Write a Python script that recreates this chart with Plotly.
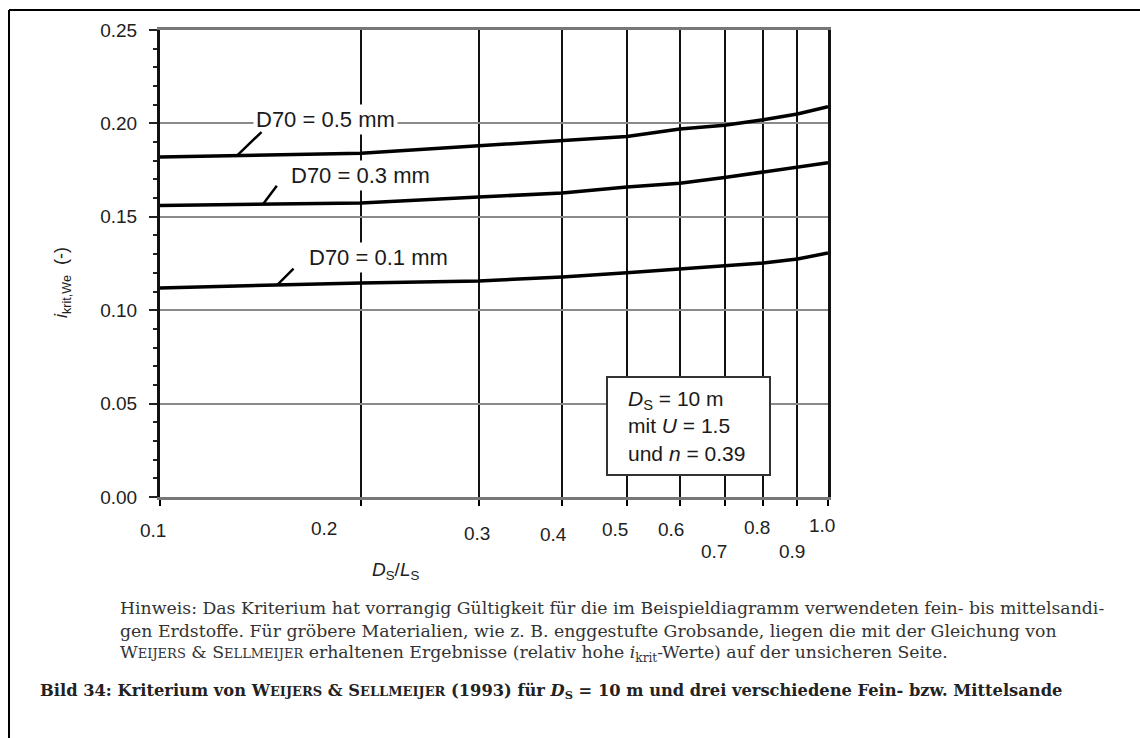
import numpy as np
import plotly.graph_objects as go

# ---- data ----
ds_ls = [0.1, 0.2, 0.3, 0.4, 0.5, 0.6, 0.7, 0.8, 0.9, 1.0]
i_d70_05 = [0.182, 0.184, 0.188, 0.1906, 0.193, 0.197, 0.199, 0.202, 0.205, 0.209]
i_d70_03 = [0.156, 0.1574, 0.1606, 0.1627, 0.166, 0.168, 0.171, 0.174, 0.1767, 0.179]
i_d70_01 = [0.1119, 0.1146, 0.1156, 0.1178, 0.120, 0.122, 0.1237, 0.1253, 0.1274, 0.1306]
series_names = ["D70 = 0.5 mm", "D70 = 0.3 mm", "D70 = 0.1 mm"]
x_tick_vals = [0.1, 0.2, 0.3, 0.4, 0.5, 0.6, 0.7, 0.8, 0.9, 1.0]
x_tick_text = ["0.1", "0.2", "0.3", "0.4", "0.5", "0.6", "0.7", "0.8", "0.9", "1.0"]
y_tick_vals = [0.00, 0.05, 0.10, 0.15, 0.20, 0.25]

# ---- layout helpers (positions / styles) ----
x_lab_dx = [-7, -37, -2, -9, -12, -9, -11, -6, -5, -6]
x_lab_dy = [33, 31, 36, 37, 32, 32, 54, 30, 54, 28]
leader_x = [0.1304, 0.1426, 0.1497]
leader_ax = [26, 15, 18]
leader_ay = [-25, -20, -18]
label_px = [(325, 119), (360, 175), (378, 257)]

SANS = "Liberation Sans, Arial, sans-serif"
SERIF = "DejaVu Serif, serif"

L, R, T, B = 160, 312, 30, 241
W, H = 1140, 738
pw, ph = W - L - R, H - T - B


def px2paper(xp, yp):
    return (xp - L) / pw, (H - yp - B) / ph


fig = go.Figure()
all_series = [i_d70_05, i_d70_03, i_d70_01]
for name, ys in zip(series_names, all_series):
    fig.add_trace(go.Scatter(x=ds_ls, y=ys, mode="lines", name=name,
                             line=dict(color="black", width=3.5), showlegend=False))

ann = []
# curve labels
for name, (lpx, lpy) in zip(series_names, label_px):
    px, py = px2paper(lpx, lpy)
    ann.append(dict(x=px, y=py, xref="paper", yref="paper", text=name, showarrow=False,
                    xanchor="center", yanchor="middle",
                    font=dict(family=SANS, size=22, color="#1a1a1a"), bgcolor="white", borderpad=2))
# leader lines
logx = np.log10(ds_ls)
for lx, ax_, ay_, ys in zip(leader_x, leader_ax, leader_ay, all_series):
    ly = float(np.interp(np.log10(lx), logx, ys))
    ann.append(dict(x=np.log10(lx), y=ly, xref="x", yref="y", text="", showarrow=True,
                    arrowhead=0, arrowwidth=2.5, arrowcolor="black", ax=ax_, ay=ay_,
                    standoff=0, startstandoff=0))
# x tick labels
for v, t, dx, dy in zip(x_tick_vals, x_tick_text, x_lab_dx, x_lab_dy):
    ann.append(dict(x=np.log10(v), y=0, xref="x", yref="paper", text=t, showarrow=False,
                    xanchor="center", yanchor="middle", xshift=dx, yshift=-dy,
                    font=dict(family=SANS, size=19, color="#222")))
# axis titles
ann.append(dict(x=0.352, y=-0.158, xref="paper", yref="paper",
                xanchor="center", yanchor="middle",
                text="<i>D</i><sub>S</sub>/<i>L</i><sub>S</sub>", showarrow=False,
                font=dict(family=SANS, size=19, color="#222")))
tx, ty = px2paper(62, 283)
ann.append(dict(x=tx, y=ty, xref="paper", yref="paper", textangle=-90,
                xanchor="center", yanchor="middle",
                text="<i>i</i><sub>krit,We</sub>  (-)", showarrow=False,
                font=dict(family=SANS, size=18, color="#222")))
# info box text
bx, by = px2paper(626, 426)
ann.append(dict(x=bx, y=by, xref="paper", yref="paper", xanchor="left", yanchor="middle",
                text="<i>D</i><sub>S</sub> = 10 m<br>mit <i>U</i> = 1.5<br>und <i>n</i> = 0.39",
                showarrow=False, align="left",
                font=dict(family=SANS, size=21, color="#1a1a1a")))

# bottom text
sc = "<span style='font-size:{}px'>{}</span>"
def weijers(fs):
    return "W" + sc.format(fs, "EIJERS") + " &amp; S" + sc.format(fs, "ELLMEIJER")

lines = [
    "Hinweis: Das Kriterium hat vorrangig Gültigkeit für die im Beispieldiagramm verwendeten fein- bis mittelsandi-",
    "gen Erdstoffe. Für gröbere Materialien, wie z. B. enggestufte Grobsande, liegen die mit der Gleichung von",
    weijers(13) + " erhaltenen Ergebnisse (relativ hohe <i>i</i><sub>krit</sub>-Werte) auf der unsicheren Seite.",
]
line_y = [608, 631, 654]
for txt, yy in zip(lines, line_y):
    x0, y0 = px2paper(118, yy)
    ann.append(dict(x=x0, y=y0, xref="paper", yref="paper", text=txt, showarrow=False,
                    xanchor="left", yanchor="middle",
                    font=dict(family=SERIF, size=17.3, color="#333")))
caption = ("<b>Bild 34: Kriterium von " + weijers(13) + " (1993) für <i>D</i><sub>S</sub> = 10 m "
           "und drei verschiedene Fein- bzw. Mittelsande</b>")
x0, y0 = px2paper(38, 691)
ann.append(dict(x=x0, y=y0, xref="paper", yref="paper", text=caption, showarrow=False,
                xanchor="left", yanchor="middle",
                font=dict(family=SERIF, size=16.3, color="#222")))

bl_x0, bl_y0 = px2paper(9, 10)
bl_x1, bl_y1 = px2paper(W + 5, H + 5)
rb_x0, rb_y0 = px2paper(607, 377)
rb_x1, rb_y1 = px2paper(770, 475)
fig.update_layout(
    width=W, height=H,
    margin=dict(l=L, r=R, t=T, b=B),
    paper_bgcolor="white", plot_bgcolor="white",
    annotations=ann,
    shapes=[
        dict(type="line", xref="paper", yref="paper",
             x0=bl_x0, x1=bl_x1, y0=bl_y0, y1=bl_y0, line=dict(color="black", width=2)),
        dict(type="line", xref="paper", yref="paper",
             x0=bl_x0, x1=bl_x0, y0=bl_y0, y1=bl_y1, line=dict(color="black", width=2)),
        dict(type="rect", xref="paper", yref="paper", layer="above",
             x0=rb_x0, x1=rb_x1, y0=rb_y0, y1=rb_y1,
             fillcolor="white", line=dict(color="#333", width=2)),
    ],
)
fig.update_xaxes(type="log", range=[-1, 0], tickvals=x_tick_vals, showticklabels=False,
                 ticks="outside", ticklen=6, tickwidth=2, tickcolor="black",
                 showgrid=True, gridcolor="#111", gridwidth=2,
                 showline=True, linecolor="#777", linewidth=3, mirror=True, zeroline=False)
fig.update_yaxes(range=[0, 0.25], tickvals=y_tick_vals, tickformat=".2f",
                 ticks="outside", ticklen=8, tickwidth=2, tickcolor="#222",
                 ticklabelstandoff=8,
                 minor=dict(dtick=0.01, ticks="outside", ticklen=4, tickwidth=2, tickcolor="#222",
                            showgrid=False),
                 showgrid=True, gridcolor="#8a8a8a", gridwidth=2,
                 showline=True, linecolor="#111", linewidth=3, mirror=True, zeroline=False,
                 tickfont=dict(family=SANS, size=19, color="#222"))

fig.write_html("out.html", config={"displayModeBar": False},
               post_script="document.body.style.margin='0';document.body.style.overflow='hidden';")
